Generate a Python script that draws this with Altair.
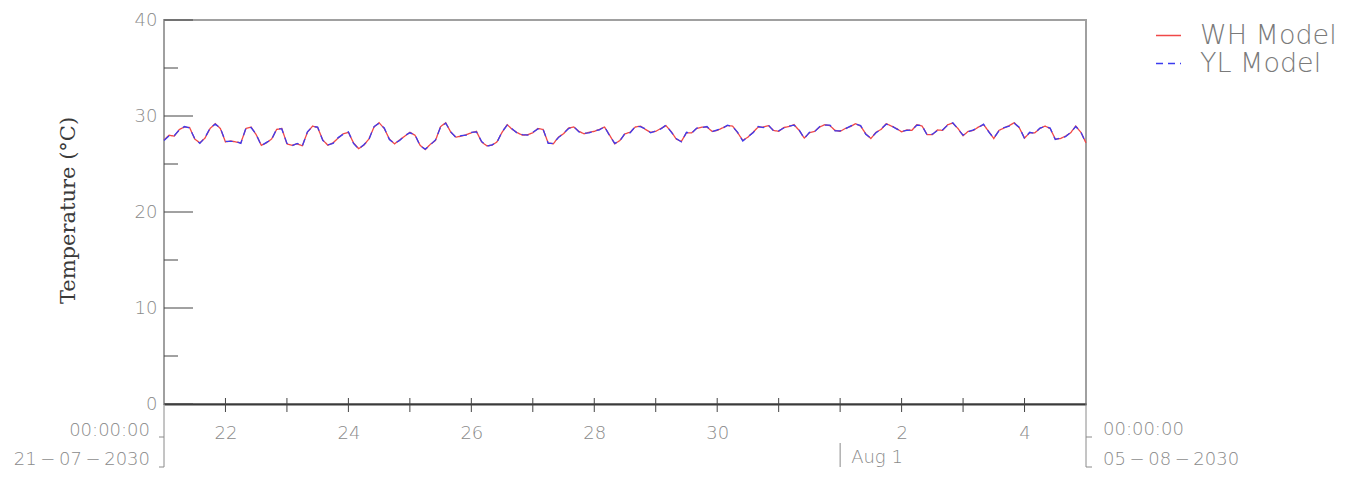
import altair as alt
import pandas as pd

# ---- data (2-hourly samples) ----
hours = list(range(0, 361, 2))
wh_model = [
    27.5, 28.0, 27.9, 28.6, 28.85, 28.8, 27.6, 27.2, 27.7, 28.7,
    29.2, 28.7, 27.3, 27.4, 27.3, 27.2, 28.7, 28.85, 28.05, 26.95,
    27.2, 27.6, 28.6, 28.7, 27.1, 26.95, 27.1, 26.9, 28.3, 28.95,
    28.8, 27.5, 26.95, 27.2, 27.7, 28.15, 28.3, 27.2, 26.6, 26.95,
    27.6, 28.85, 29.3, 28.7, 27.6, 27.1, 27.5, 27.9, 28.3, 28.0,
    26.95, 26.5, 27.05, 27.45, 28.9, 29.3, 28.3, 27.8, 27.9, 28.05,
    28.25, 28.4, 27.3, 26.9, 26.95, 27.3, 28.3, 29.1, 28.6, 28.25,
    28.0, 28.05, 28.25, 28.7, 28.6, 27.2, 27.1, 27.8, 28.15, 28.75,
    28.85, 28.4, 28.15, 28.3, 28.4, 28.6, 28.85, 28.0, 27.1, 27.45,
    28.15, 28.3, 28.85, 28.95, 28.6, 28.3, 28.4, 28.7, 29.0, 28.4,
    27.6, 27.35, 28.25, 28.25, 28.7, 28.85, 28.85, 28.4, 28.5, 28.75,
    29.0, 28.95, 28.25, 27.45, 27.8, 28.3, 28.85, 28.85, 29.0, 28.5,
    28.4, 28.8, 28.9, 29.1, 28.5, 27.7, 28.25, 28.4, 28.85, 29.1,
    29.0, 28.5, 28.4, 28.7, 28.9, 29.2, 28.95, 28.15, 27.65, 28.3,
    28.6, 29.2, 28.95, 28.7, 28.35, 28.55, 28.5, 29.1, 28.95, 28.05,
    28.05, 28.55, 28.5, 29.1, 29.25, 28.7, 27.95, 28.4, 28.5, 28.85,
    29.1, 28.4, 27.65, 28.5, 28.75, 29.0, 29.3, 28.75, 27.7, 28.25,
    28.25, 28.7, 28.95, 28.7, 27.6, 27.65, 27.9, 28.25, 28.95, 28.3,
    27.2,
]
yl_model = [
    27.45, 27.95, 27.95, 28.55, 28.9, 28.75, 27.65, 27.15, 27.75, 28.75,
    29.15, 28.75, 27.35, 27.35, 27.35, 27.15, 28.75, 28.8, 28.1, 26.9,
    27.25, 27.55, 28.65, 28.65, 27.15, 26.9, 27.15, 26.85, 28.35, 28.9,
    28.85, 27.45, 27.0, 27.15, 27.75, 28.1, 28.35, 27.15, 26.55, 27.0,
    27.55, 28.9, 29.25, 28.75, 27.55, 27.15, 27.45, 27.95, 28.25, 28.05,
    26.9, 26.55, 27.0, 27.5, 28.85, 29.25, 28.35, 27.75, 27.95, 28.0,
    28.3, 28.35, 27.35, 26.85, 27.0, 27.25, 28.35, 29.05, 28.65, 28.2,
    28.05, 28.0, 28.3, 28.65, 28.65, 27.15, 27.15, 27.75, 28.2, 28.7,
    28.9, 28.35, 28.2, 28.25, 28.45, 28.55, 28.9, 27.95, 27.15, 27.4,
    28.2, 28.25, 28.9, 28.9, 28.65, 28.25, 28.45, 28.65, 29.05, 28.35,
    27.65, 27.3, 28.3, 28.2, 28.75, 28.8, 28.9, 28.35, 28.55, 28.7,
    29.05, 28.9, 28.3, 27.4, 27.85, 28.25, 28.9, 28.8, 29.05, 28.45,
    28.45, 28.75, 28.95, 29.05, 28.55, 27.65, 28.3, 28.35, 28.9, 29.05,
    29.05, 28.45, 28.45, 28.65, 28.95, 29.15, 29.0, 28.1, 27.7, 28.25,
    28.65, 29.15, 29.0, 28.65, 28.4, 28.5, 28.55, 29.05, 29.0, 28.0,
    28.1, 28.5, 28.55, 29.05, 29.3, 28.65, 28.0, 28.35, 28.55, 28.8,
    29.15, 28.35, 27.7, 28.45, 28.8, 28.95, 29.25, 28.8, 27.65, 28.3,
    28.2, 28.75, 28.9, 28.75, 27.55, 27.7, 27.85, 28.3, 28.9, 28.35,
    27.15,
]
models = ["WH Model", "YL Model"]
colors = ["#f04848", "#3c3cf0"]

y_major = [0, 10, 20, 30, 40]
y_minor = [5, 15, 25, 35]
day_ticks = [f"2030-07-{d:02d}T00:00:00" for d in range(22, 32)] + \
            [f"2030-08-{d:02d}T00:00:00" for d in range(1, 5)]
label_days = [(2030, 7, d) for d in (22, 24, 26, 28, 30)] + [(2030, 8, d) for d in (2, 4)]
start_date = "2030-07-21T00:00:00"
end_date = "2030-08-05T00:00:00"
aug1_date = "2030-08-01T00:00:00"

# ---- tables ----
start = pd.Timestamp(start_date)
times = [(start + pd.Timedelta(hours=h)).strftime("%Y-%m-%dT%H:%M:%S") for h in hours]
df = pd.DataFrame({
    "time": times + times,
    "temp": wh_model + yl_model,
    "model": [models[0]] * len(wh_model) + [models[1]] * len(yl_model),
})

LABEL_FONT = "DejaVu Sans"
LABEL_COLOR = "#8a8a8a"
FS = 18

x_scale = alt.Scale(domain=[alt.DateTime(year=2030, month=7, date=21),
                            alt.DateTime(year=2030, month=8, date=5)])
y_scale = alt.Scale(domain=[0, 40], nice=False)

legend = alt.Legend(title=None, orient="none", legendX=991, legendY=2,
                    symbolType="stroke", symbolSize=625, symbolStrokeWidth=1.5,
                    labelFontSize=27, labelFont=LABEL_FONT, labelFontWeight=200,
                    labelColor="#7a7a7a", labelOffset=18, rowPadding=0, padding=0)

x_axis = alt.Axis(values=[alt.DateTime(year=a, month=b, date=c) for a, b, c in label_days],
                  format="%-d", ticks=False, grid=False, domainColor="#3a3a3a",
                  domainWidth=2, labelPadding=20, labelFontSize=FS, labelFont=LABEL_FONT,
                  labelFontWeight=200, labelColor=LABEL_COLOR, labelOverlap=False,
                  labelFlush=False, title=None)
y_axis = alt.Axis(values=y_major, ticks=False, grid=False, domain=False,
                  labelPadding=7, labelFontSize=FS, labelFont=LABEL_FONT,
                  labelFontWeight=200, labelColor=LABEL_COLOR,
                  title="Temperature (°C)", titleFont="DejaVu Serif",
                  titleFontSize=21, titleFontWeight="normal", titleColor="#3a3a3a",
                  titleAngle=270, titleAlign="center", titleBaseline="middle",
                  titleX=-96, titleY=190)

lines = alt.Chart(df).mark_line(strokeWidth=1.3).encode(
    x=alt.X("time:T", scale=x_scale, axis=x_axis),
    y=alt.Y("temp:Q", scale=y_scale, axis=y_axis),
    color=alt.Color("model:N", scale=alt.Scale(domain=models, range=colors), legend=legend),
    strokeDash=alt.StrokeDash("model:N", scale=alt.Scale(domain=models, range=[[1, 0], [7, 5]]),
                              legend=legend),
)

major = alt.Chart(pd.DataFrame({"v": y_major})).mark_rule(color="#444444", strokeWidth=1).encode(
    y=alt.Y("v:Q", scale=y_scale, axis=y_axis), x=alt.value(0), x2=alt.value(29))
minor = alt.Chart(pd.DataFrame({"v": y_minor})).mark_rule(color="#444444", strokeWidth=1).encode(
    y=alt.Y("v:Q", scale=y_scale, axis=y_axis), x=alt.value(0), x2=alt.value(14))
dticks = alt.Chart(pd.DataFrame({"d": day_ticks})).mark_rule(color="#444444", strokeWidth=1).encode(
    x=alt.X("d:T", scale=x_scale, axis=x_axis), y=alt.value(378), y2=alt.value(392))


def text_layer(date, txt, align, dx, ypix):
    return alt.Chart(pd.DataFrame({"d": [date], "t": [txt]})).mark_text(
        align=align, baseline="middle", dx=dx, font=LABEL_FONT, fontWeight=200,
        fontSize=FS, color=LABEL_COLOR).encode(
        x=alt.X("d:T", scale=x_scale, axis=x_axis), y=alt.value(ypix), text="t:N")


def vrule(date, y1, y2):
    return alt.Chart(pd.DataFrame({"d": [date]})).mark_rule(color="#8a8a8a", strokeWidth=1).encode(
        x=alt.X("d:T", scale=x_scale, axis=x_axis), y=alt.value(y1), y2=alt.value(y2))


def foot(date, ypix, off):
    return alt.Chart(pd.DataFrame({"d": [date]})).mark_rule(
        color="#8a8a8a", strokeWidth=1, x2Offset=off).encode(
        x=alt.X("d:T", scale=x_scale, axis=x_axis), x2="d:T", y=alt.value(ypix))


annots = [
    text_layer(start_date, "00:00:00", "right", -14, 411),
    text_layer(start_date, "21\u2009\u2212\u200907\u2009\u2212\u20092030", "right", -14, 440),
    text_layer(end_date, "00:00:00", "left", 17, 410),
    text_layer(end_date, "05\u2009\u2212\u200908\u2009\u2212\u20092030", "left", 17, 440),
    text_layer(aug1_date, "Aug 1", "left", 11, 438),
    vrule(start_date, 384, 447), foot(start_date, 417, -5), foot(start_date, 447, -5),
    vrule(end_date, 384, 447), foot(end_date, 417, 6), foot(end_date, 447, 6),
    vrule(aug1_date, 423, 447),
]

chart = alt.layer(lines, major, minor, dticks, *annots).properties(
    width=922, height=384,
    autosize=alt.AutoSizeParams(type="none"),
    padding={"left": 156, "top": 12, "right": 263, "bottom": 66},
).configure_view(stroke="#a0a0a0", strokeWidth=2)

chart.save("out.html", embed_options={"renderer": "svg", "actions": False})
